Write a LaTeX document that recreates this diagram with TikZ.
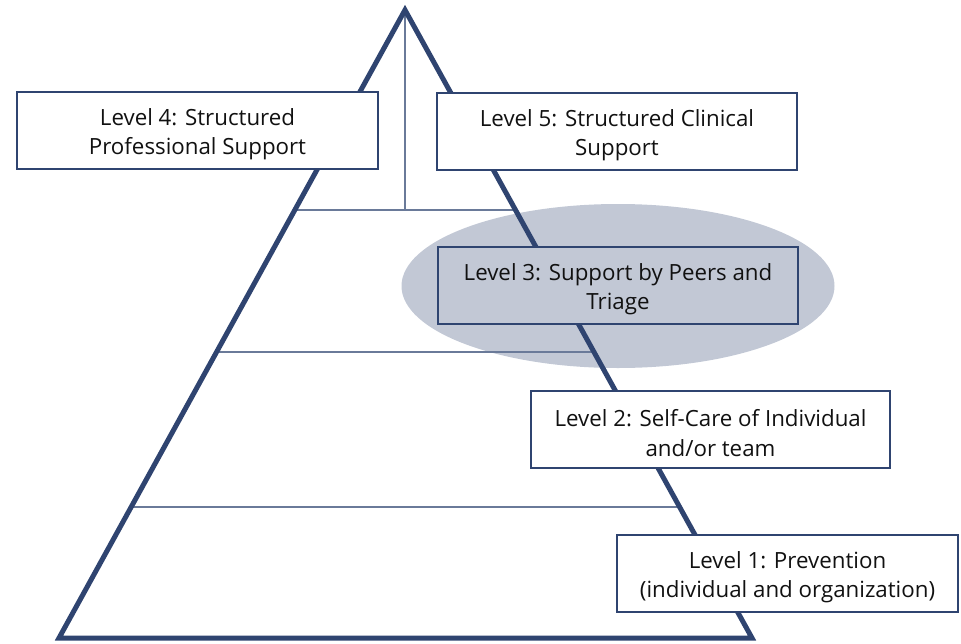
\documentclass[tikz,border=0pt]{standalone}
\usepackage{fontspec}
\setmainfont{Open Sans}
\usetikzlibrary{shapes.geometric}
\definecolor{thickc}{HTML}{2F4470}
\definecolor{thinc}{HTML}{6A7A99}
\definecolor{fillc}{HTML}{C2C8D5}
\definecolor{txtc}{HTML}{111111}
\tikzset{
  levelbox/.style={draw=thickc, line width=1.6pt, fill=white, inner sep=0pt,
    minimum height=77pt},
  boxtext/.style={text=txtc, align=center, inner sep=0pt,
    font=\fontsize{22.3}{29.5}\selectfont},
  edgeline/.style={draw=thickc, line width=5pt, line join=miter},
  tierline/.style={draw=thinc, line width=1.8pt}
}
\begin{document}
\begin{tikzpicture}[x=1pt,y=-1pt]
\useasboundingbox (0,0) rectangle (961,643);
% highlight ellipse
\node (hl) [ellipse, fill=fillc, minimum width=433pt, minimum height=164pt, inner sep=0pt] at (618,286) {};
% triangle corners
\coordinate (apex) at (405,10);
\coordinate (bl) at (59,638);
\coordinate (br) at (752,638);
% tier lines
\draw[tierline] (296,210) -- (515,210);
\draw[tierline] (apex) -- (405,210);
\draw[tierline] (218,352) -- (593,352);
\draw[tierline] (132,507) -- (680,507);
% triangle
\draw[edgeline] (apex) -- (bl) -- (br) -- cycle;
% boxes
\node[levelbox, minimum width=361pt] (l4) at (197.5,130.5) {};
\node[boxtext] (l4t) at ([yshift=-3.5pt]l4.center) {Level 4: Structured\\Professional Support};
\node[levelbox, minimum width=360pt] (l5) at (617,131.5) {};
\node[boxtext] (l5t) at ([yshift=-3.5pt]l5.center) {Level 5: Structured Clinical\\Support};
\node[levelbox, fill=fillc, minimum width=360pt] (l3) at (618,285.5) {};
\node[boxtext] (l3t) at ([yshift=-3.5pt]l3.center) {Level 3: Support by Peers and\\Triage};
\node[levelbox, minimum width=359pt] (l2) at (710.5,429.5) {};
\node[boxtext] (l2t) at ([yshift=-3.5pt]l2.center) {Level 2: Self-Care of Individual\\and/or team};
\node[levelbox, minimum width=341pt] (l1) at (787.5,573.5) {};
\node[boxtext] (l1t) at ([yshift=-3.5pt]l1.center) {Level 1: Prevention\\(individual and organization)};
\end{tikzpicture}
\end{document}
